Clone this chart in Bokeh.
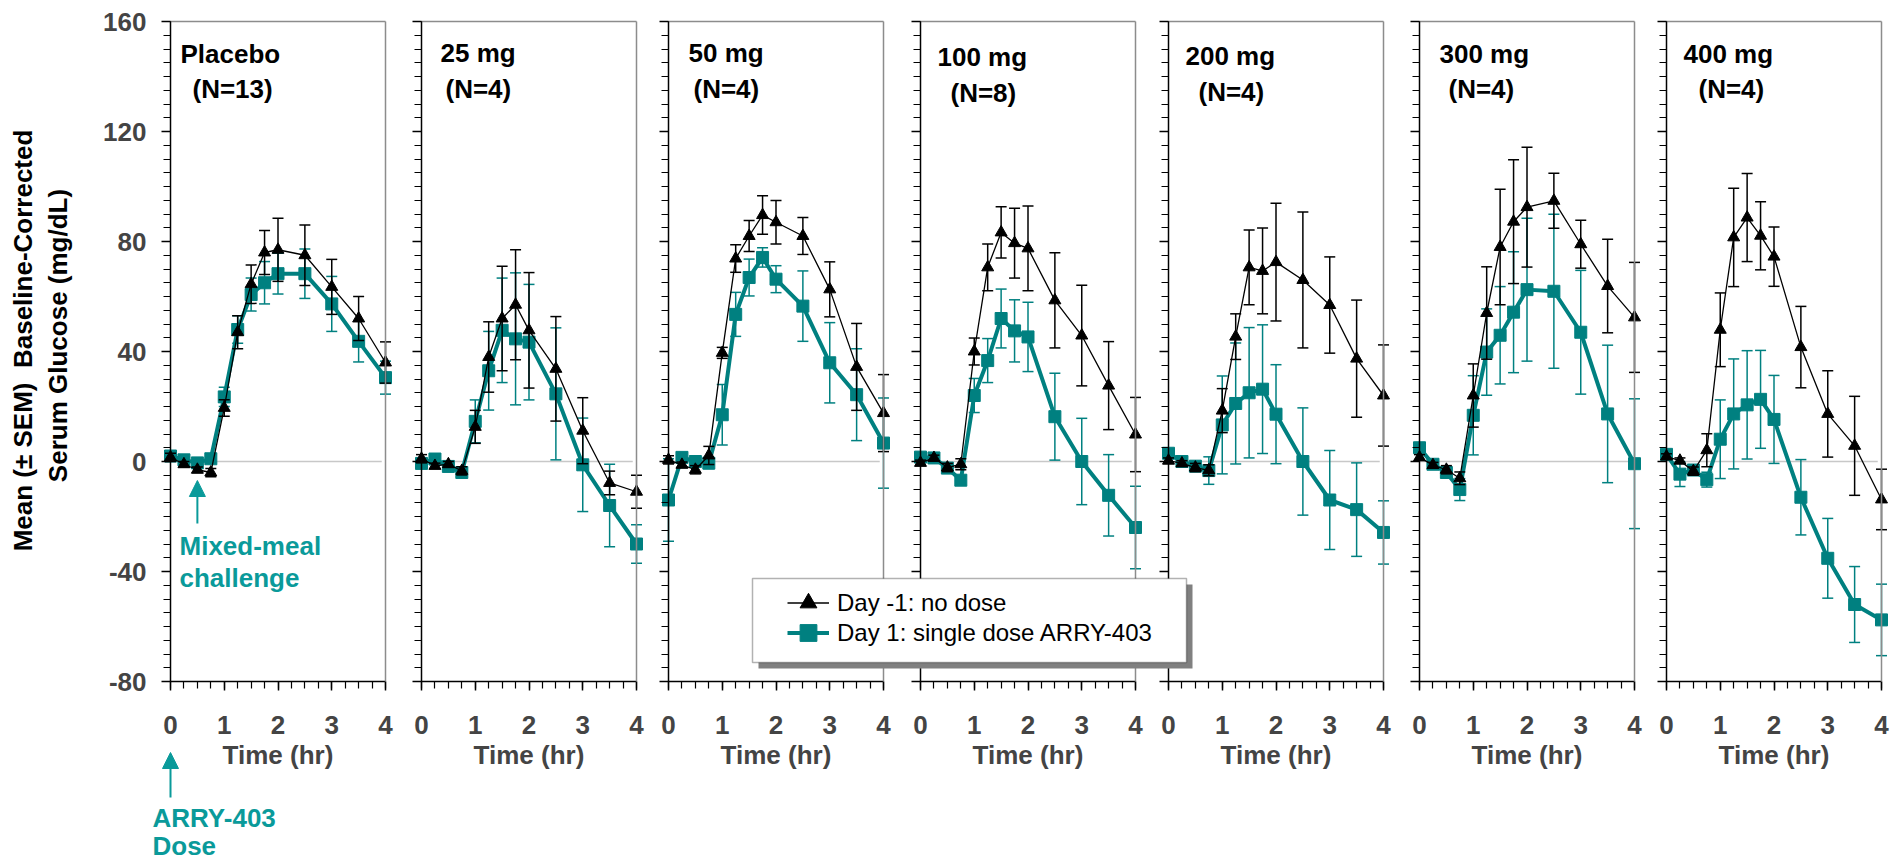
import numpy as np
from bokeh.plotting import figure
from bokeh.models import (Range1d, LinearAxis, SingleIntervalTicker, FixedTicker, Label,
                          Arrow, NormalHead, BoxAnnotation, Legend, LegendItem, ColumnDataSource)
from bokeh.embed import file_html
from bokeh.resources import INLINE

# ---------------- data ----------------
times = [0, 0.25, 0.5, 0.75, 1, 1.25, 1.5, 1.75, 2, 2.5, 3, 3.5, 4]
panel_titles = ["Placebo", "25 mg", "50 mg", "100 mg", "200 mg", "300 mg", "400 mg"]
panel_counts = ["(N=13)", "(N=4)", "(N=4)", "(N=8)", "(N=4)", "(N=4)", "(N=4)"]
y_ticks = [-80, -40, 0, 40, 80, 120, 160]
y_tick_labels = ["-80", "-40", "0", "40", "80", "120", "160"]
x_ticks = [0, 1, 2, 3, 4]
meal_time = 0.5
dose_time = 0.0

# Day -1 (no dose): mean and SEM
placebo_nodose = [1.5, -1, -3, -4, 19.5, 47, 64.5, 76, 77, 75, 63.5, 52, 36]
placebo_nodose_sem = [1.5, 1, 1, 1.5, 3, 6, 7, 8, 11.5, 11, 10, 8, 7.5]
mg25_nodose = [1, -1.6, -1, -3.4, 12.6, 38, 52, 57, 47.7, 33.7, 11.2, -7.8, -11]
mg25_nodose_sem = [1.5, 1, 1, 1.5, 6, 12.8, 19, 20, 21, 19, 12, 4.3, 6]
mg50_nodose = [0.6, -1.2, -3, 2.2, 39.5, 73.8, 82, 89.6, 87, 82, 62.6, 34.4, 17.6]
mg50_nodose_sem = [1.5, 1, 1.5, 3.3, 2, 5, 5.6, 7, 7.9, 6.7, 10, 15.8, 14]
mg100_nodose = [-0.5, 1.3, -2.2, -1, 40, 70.6, 83.3, 79.4, 77.5, 58.6, 45.8, 27.6, 9.8]
mg100_nodose_sem = [1, 1, 1.5, 2, 4.9, 8.5, 9.3, 12.7, 15.4, 17.3, 18.3, 16, 13.5]
mg200_nodose = [0.3, -0.7, -2.2, -3.2, 18.5, 45.4, 70.6, 69.3, 72.5, 66, 56.9, 37.4, 24]
mg200_nodose_sem = [1, 1, 1.5, 2, 8, 8.3, 13.6, 15.6, 21.4, 24.7, 17.5, 21.3, 18.4]
mg300_nodose = [1.5, -1.3, -3, -6.1, 24, 54, 78, 87.2, 92.5, 94.8, 79, 63.8, 52.4]
mg300_nodose_sem = [1, 1, 1.5, 2.3, 11.5, 16.8, 21, 22.5, 21.8, 10, 8.7, 17, 20]
mg400_nodose = [1.8, 0.3, -3.5, 4.1, 47.9, 81.5, 88.7, 82.1, 74.5, 41.6, 17.3, 5.7, -13.8]
mg400_nodose_sem = [1, 1, 1.5, 6, 13.4, 17.9, 16, 12.4, 10.8, 14.8, 15.7, 18, 11]

# Day 1 (single dose ARRY-403): mean and SEM
placebo_dose = [2, 0.6, -0.5, 1, 23.5, 48, 60.7, 65, 68.3, 68.3, 57.3, 43.7, 30.5]
placebo_dose_sem = [1.5, 1, 1, 1.5, 3.5, 5, 6, 7.7, 7.4, 9, 10, 7.5, 6]
mg25_dose = [-0.7, 0.9, -1.8, -4, 14.6, 33, 47.7, 44.6, 43.4, 24.6, -1.2, -16, -30]
mg25_dose_sem = [1.5, 1.5, 1.5, 1.5, 7.8, 14.3, 19, 24, 21, 24, 17, 15, 7]
mg50_dose = [-14, 1.5, 0, -0.6, 17, 53.5, 66.9, 74.2, 66.3, 56.5, 35.9, 24.3, 6.7]
mg50_dose_sem = [15, 1.5, 1, 2, 11, 8, 6.7, 3.5, 4.9, 12.8, 14.6, 16.7, 16.4]
mg100_dose = [1.6, 1.3, -2.4, -6.8, 24, 36.7, 52, 47.5, 45.3, 16.3, 0, -12.3, -24]
mg100_dose_sem = [1.5, 1.5, 1.5, 1.5, 6.2, 8, 10.7, 11.3, 12.6, 15.8, 15.7, 14.8, 15]
mg200_dose = [3, 0, -1.7, -3.3, 13.3, 21.1, 25, 26.3, 17.2, 0, -14, -17.5, -25.8]
mg200_dose_sem = [1.5, 1.5, 1.5, 5, 17.8, 22, 23.7, 23.4, 18, 19.5, 18, 17, 11.5]
mg300_dose = [5, -1, -4, -10.2, 16.8, 39.8, 45.9, 54.3, 62.5, 61.9, 47, 17.3, -0.8]
mg300_dose_sem = [1.5, 1.5, 2, 4, 14.4, 15.7, 17.7, 22, 26, 28, 22.5, 25, 23.6]
mg400_dose = [2.6, -4.6, -3.1, -6.6, 8.1, 17.3, 20.6, 22.6, 15.3, -13, -35.2, -52, -57.6]
mg400_dose_sem = [1.5, 4.5, 1.5, 2.7, 14.3, 20, 19.7, 17.8, 16, 13.7, 14.5, 13.8, 13]

nodose_series = [placebo_nodose, mg25_nodose, mg50_nodose, mg100_nodose, mg200_nodose, mg300_nodose, mg400_nodose]
nodose_sems = [placebo_nodose_sem, mg25_nodose_sem, mg50_nodose_sem, mg100_nodose_sem, mg200_nodose_sem, mg300_nodose_sem, mg400_nodose_sem]
dose_series = [placebo_dose, mg25_dose, mg50_dose, mg100_dose, mg200_dose, mg300_dose, mg400_dose]
dose_sems = [placebo_dose_sem, mg25_dose_sem, mg50_dose_sem, mg100_dose_sem, mg200_dose_sem, mg300_dose_sem, mg400_dose_sem]

# ---------------- layout (page pixels) ----------------
PX0, PX1 = 0, 1892          # figure left / right on the page
PY0, PY1 = 0, 859           # figure top / bottom on the page
panel_left = [170, 421, 668, 920, 1168, 1419, 1666]
PANEL_W = 215
Y_TOP_PX, Y_BOT_PX = 21, 681   # where 160 and -80 sit
title_dx1 = [10, 19, 20, 17, 17, 20, 17]
title_dx2 = [22, 24, 25, 30, 30, 29, 32]
title_y1 = [53, 52, 52, 56, 55, 53, 53]
title_y2 = [88, 88, 88, 92, 91, 88, 88]

BLACK = "#000000"
TEAL = "#008080"
TXT_TEAL = "#0a9a9a"
FRAME_GREY = "#8c8c8c"
ZERO_GREY = "#c8c8c8"
FONT = "Liberation Sans"
BOLD_SIZE = "26px"

ys = 240.0 / (Y_BOT_PX - Y_TOP_PX)
glu_range = Range1d(start=-80 - (PY1 - Y_BOT_PX) * ys, end=160 + (Y_TOP_PX - PY0) * ys)

p = figure(width=PX1 - PX0, height=PY1 - PY0,
           x_range=Range1d(PX0, PX1), y_range=Range1d(PY1, PY0),
           x_axis_type=None, y_axis_type=None, toolbar_location=None,
           output_backend="svg", min_border=0, outline_line_color=None)
p.background_fill_color = "white"
p.border_fill_color = "white"

xr_map = {}
for k, L in enumerate(panel_left):
    s = 4.0 / PANEL_W
    xr_map[f"p{k}"] = Range1d(start=-(L - PX0) * s, end=4 + (PX1 - (L + PANEL_W)) * s)
p.extra_x_ranges = xr_map
p.extra_y_ranges = {"glu": glu_range}

legend_renderers = {}

for k in range(7):
    xr = f"p{k}"
    kw = dict(x_range_name=xr, y_range_name="glu")

    # zero reference line
    p.segment(x0=[0], y0=[0], x1=[3.93], y1=[0], line_color=ZERO_GREY, line_width=1.5, **kw)

    # frame: left / bottom axes
    yax = LinearAxis(fixed_location=0, bounds=(-80, 160),
                     ticker=SingleIntervalTicker(interval=40, num_minor_ticks=8), **kw)
    yax.axis_line_width = 1.5
    yax.major_tick_line_width = 1.5
    yax.minor_tick_line_width = 1.2
    yax.major_tick_out = 9
    yax.major_tick_in = 0
    yax.minor_tick_out = 7
    yax.minor_tick_in = 0
    yax.major_label_text_font = FONT
    yax.major_label_text_font_style = "bold"
    yax.major_label_text_font_size = BOLD_SIZE
    yax.major_label_standoff = 15
    if k == 0:
        yax.major_label_overrides = dict(zip(y_ticks, y_tick_labels))
    else:
        yax.major_label_overrides = {v: "" for v in y_ticks}
    p.add_layout(yax, "left")

    xax = LinearAxis(fixed_location=-80, bounds=(0, 4),
                     ticker=SingleIntervalTicker(interval=1, num_minor_ticks=4), **kw)
    xax.axis_line_width = 1.5
    xax.major_tick_line_width = 1.5
    xax.minor_tick_line_width = 1.2
    xax.major_tick_out = 9
    xax.major_tick_in = 0
    xax.minor_tick_out = 7
    xax.minor_tick_in = 0
    xax.major_label_text_font = FONT
    xax.major_label_text_font_style = "bold"
    xax.major_label_text_font_size = BOLD_SIZE
    xax.major_label_standoff = 25
    xax.axis_label = "Time (hr)"
    xax.axis_label_text_font = FONT
    xax.axis_label_text_font_style = "bold"
    xax.axis_label_text_font_size = BOLD_SIZE
    xax.axis_label_standoff = 3
    p.add_layout(xax, "below")

    # frame: right / top borders (grey)
    rax = LinearAxis(fixed_location=4, bounds=(-80, 160), ticker=FixedTicker(ticks=[]), **kw)
    rax.axis_line_color = FRAME_GREY
    rax.axis_line_width = 1.5
    p.add_layout(rax, "right")
    tax = LinearAxis(fixed_location=160, bounds=(0, 4), ticker=FixedTicker(ticks=[]), **kw)
    tax.axis_line_color = FRAME_GREY
    tax.axis_line_width = 1.5
    p.add_layout(tax, "above")

    # data
    m_n = np.array(nodose_series[k], float)
    e_n = np.array(nodose_sems[k], float)
    m_d = np.array(dose_series[k], float)
    e_d = np.array(dose_sems[k], float)
    src_n = ColumnDataSource(dict(t=times, m=m_n, lo=m_n - e_n, hi=m_n + e_n))
    src_d = ColumnDataSource(dict(t=times, m=m_d, lo=m_d - e_d, hi=m_d + e_d))

    # Day 1 (teal) first
    p.segment(x0="t", y0="lo", x1="t", y1="hi", source=src_d, line_color=TEAL, line_width=1.5, **kw)
    p.scatter(x="t", y="lo", source=src_d, marker="dash", size=11, line_color=TEAL, line_width=1.5, **kw)
    p.scatter(x="t", y="hi", source=src_d, marker="dash", size=11, line_color=TEAL, line_width=1.5, **kw)
    tl = p.line(x="t", y="m", source=src_d, line_color=TEAL, line_width=4, **kw)
    ts = p.scatter(x="t", y="m", source=src_d, marker="square", size=12,
                   fill_color=TEAL, line_color=TEAL, **kw)

    # Day -1 (black) on top
    p.segment(x0="t", y0="lo", x1="t", y1="hi", source=src_n, line_color=BLACK, line_width=1.5, **kw)
    p.scatter(x="t", y="lo", source=src_n, marker="dash", size=11, line_color=BLACK, line_width=1.5, **kw)
    p.scatter(x="t", y="hi", source=src_n, marker="dash", size=11, line_color=BLACK, line_width=1.5, **kw)
    bl = p.line(x="t", y="m", source=src_n, line_color=BLACK, line_width=1.3, **kw)
    bs = p.scatter(x="t", y="m", source=src_n, marker="triangle", size=12,
                   fill_color=BLACK, line_color=BLACK, **kw)
    if k == 0:
        legend_renderers = dict(bl=bl, bs=bs, tl=tl, ts=ts)

    # panel titles
    for txt, dx, yy in ((panel_titles[k], title_dx1[k], title_y1[k]),
                        (panel_counts[k], title_dx2[k], title_y2[k])):
        p.add_layout(Label(x=panel_left[k] + dx, y=yy, text=txt, text_font=FONT,
                           text_font_style="bold", text_font_size=BOLD_SIZE,
                           text_color=BLACK, text_align="left", text_baseline="middle"))

# y-axis title (two rotated lines)
for txt, xx, yy in (("Mean (\u00b1 SEM) \u00a0Baseline-Corrected", 22, 340),
                    ("Serum Glucose (mg/dL)", 57, 335)):
    p.add_layout(Label(x=xx, y=yy, text=txt, angle=np.pi / 2, text_font=FONT,
                       text_font_style="bold", text_font_size=BOLD_SIZE, text_color=BLACK,
                       text_align="center", text_baseline="middle"))

# annotations: meal challenge and dose
p.add_layout(Arrow(end=NormalHead(size=16, fill_color=TXT_TEAL, line_color=TXT_TEAL),
                   x_start=meal_time, x_end=meal_time, y_start=523, y_end=480,
                   x_range_name="p0", line_color=TXT_TEAL, line_width=2))
p.add_layout(Arrow(end=NormalHead(size=16, fill_color=TXT_TEAL, line_color=TXT_TEAL),
                   x_start=dose_time, x_end=dose_time, y_start=797, y_end=752,
                   x_range_name="p0", line_color=TXT_TEAL, line_width=2))
for txt, xx, yy in (("Mixed-meal", 179, 545), ("challenge", 179, 577),
                    ("ARRY-403", 152, 817), ("Dose", 152, 845)):
    p.add_layout(Label(x=xx, y=yy, text=txt, text_font=FONT, text_font_style="bold",
                       text_font_size=BOLD_SIZE, text_color=TXT_TEAL,
                       text_align="left", text_baseline="middle"))

# legend: shadow, box, entries (one Legend per row so the samples can be large)
p.add_layout(BoxAnnotation(left=758, right=1192, top=584, bottom=668,
                           fill_color="#808080", fill_alpha=1.0, line_color=None))
p.add_layout(BoxAnnotation(left=752, right=1186, top=578, bottom=662,
                           fill_color="white", fill_alpha=1.0, line_color=BLACK, line_width=1.5))
legend_rows = [("Day -1: no dose", ["bl", "bs"], 603),
               ("Day 1: single dose ARRY-403", ["tl", "ts"], 632)]
GLYPH_H = 45
for label, keys, yc in legend_rows:
    lg = Legend(items=[LegendItem(label=label, renderers=[legend_renderers[k] for k in keys])],
                location=(787 - PX0, int(round(PY1 - (yc + GLYPH_H / 2)))),
                orientation="vertical", glyph_width=42, glyph_height=GLYPH_H,
                label_standoff=8, spacing=0, padding=0, margin=0, border_line_color=None,
                background_fill_alpha=0.0, label_text_font=FONT, label_text_font_size="24px",
                label_text_color=BLACK)
    p.add_layout(lg)

open("out.html", "w").write(file_html(p, INLINE))
